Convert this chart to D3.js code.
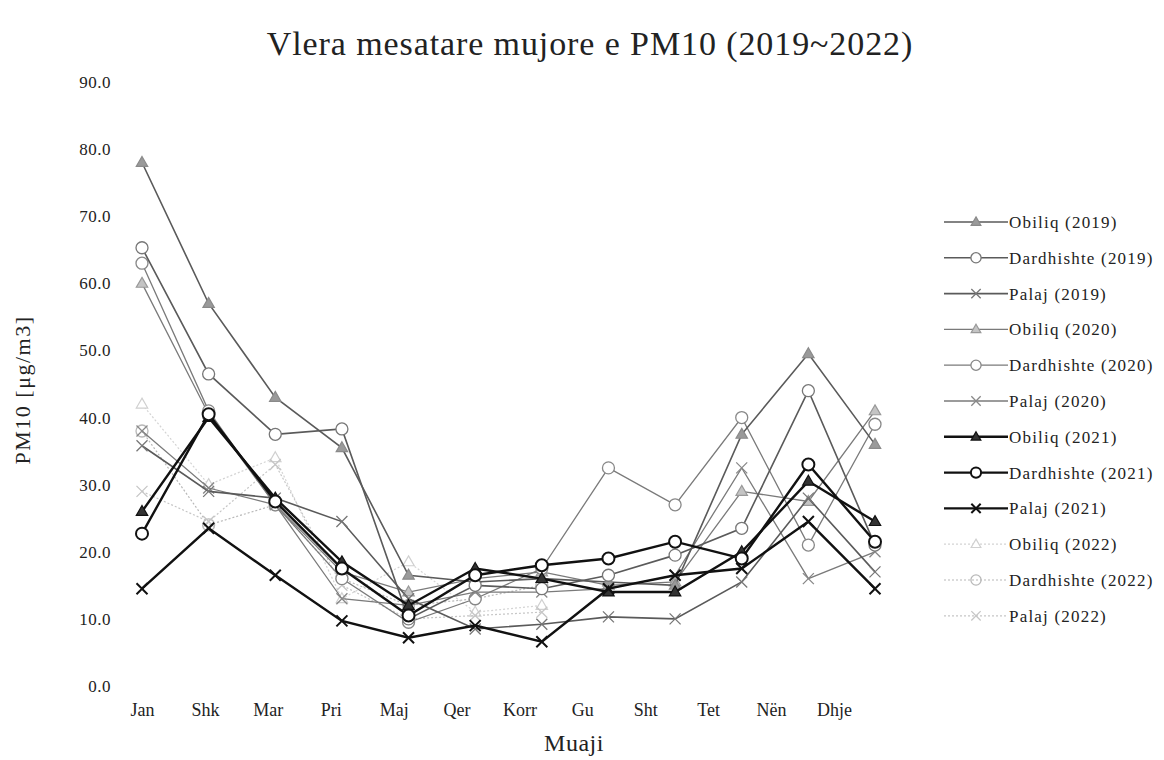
<!DOCTYPE html>
<html>
<head>
<meta charset="utf-8">
<script src="https://cdn.jsdelivr.net/npm/d3@7"></script>
<style>
  body { margin: 0; background: #fff; }
  svg text { font-family: "Liberation Serif", "DejaVu Serif", serif; fill: #222; }
</style>
</head>
<body>
<script>
// Muajt (boshti x)
const months = ["Jan", "Shk", "Mar", "Pri", "Maj", "Qer", "Korr", "Gu", "Sht", "Tet", "Nën", "Dhje"];

// Vlerat mesatare mujore PM10 për çdo stacion / vit
const obiliq2019     = [78, 57, 43, 35.5, 16.5, 15.5, 16, 15.5, 15, 37.5, 49.5, 36];
const dardhishte2019 = [65.3, 46.5, 37.5, 38.3, 10, 15, 14.5, 16.5, 19.5, 23.5, 44, 21];
const palaj2019      = [35.8, 29, 28, 24.5, 13, 8.5, 9.2, 10.3, 10, 15.5, 28, 17];
const obiliq2020     = [60, 40.5, 27, 17, 14, 16, 17, 15, 15.5, 29, 27.5, 41];
const dardhishte2020 = [63, 41, 27, 16, 9.5, 13, 17.5, 32.5, 27, 40, 21, 39];
const palaj2020      = [38, 29.5, 27, 13, 12, 14, 14, 14.5, 16.5, 32.5, 16, 20];
const obiliq2021     = [26, 40, 28, 18.5, 12, 17.5, 16, 14, 14, 20, 30.5, 24.5];
const dardhishte2021 = [22.7, 40.5, 27.5, 17.5, 10.5, 16.5, 18, 19, 21.5, 19, 33, 21.5];
const palaj2021      = [14.5, 23.5, 16.5, 9.7, 7.2, 9, 6.6, 14.5, 16.5, 17.5, 24.5, 14.5];
const obiliq2022     = [42, 30, 34, 13, 18.5, 11, 12];
const dardhishte2022 = [38, 24, 27, 16, 12, 13, 15];
const palaj2022      = [29, 24.5, 33, 15, 10, 10.5, 11];

const yTicks = [0, 10, 20, 30, 40, 50, 60, 70, 80, 90];

// Seritë me stilin e tyre
const series = [
  { name: "Obiliq (2019)",     values: obiliq2019,     shape: "tri",    line: "#5a5a5a", mark: "#8a8a8a", fill: "#9a9a9a", w: 1.6, dash: null },
  { name: "Dardhishte (2019)", values: dardhishte2019, shape: "circle", line: "#5a5a5a", mark: "#777",    fill: "#fff",    w: 1.6, dash: null },
  { name: "Palaj (2019)",      values: palaj2019,      shape: "x",      line: "#5a5a5a", mark: "#777",    fill: "none",    w: 1.6, dash: null },
  { name: "Obiliq (2020)",     values: obiliq2020,     shape: "tri",    line: "#7a7a7a", mark: "#999",    fill: "#c4c4c4", w: 1.3, dash: null },
  { name: "Dardhishte (2020)", values: dardhishte2020, shape: "circle", line: "#7a7a7a", mark: "#888",    fill: "#fff",    w: 1.3, dash: null },
  { name: "Palaj (2020)",      values: palaj2020,      shape: "x",      line: "#7a7a7a", mark: "#888",    fill: "none",    w: 1.3, dash: null },
  { name: "Obiliq (2021)",     values: obiliq2021,     shape: "tri",    line: "#111",    mark: "#111",    fill: "#333",    w: 2.4, dash: null },
  { name: "Dardhishte (2021)", values: dardhishte2021, shape: "circle", line: "#111",    mark: "#111",    fill: "#fff",    w: 2.4, dash: null },
  { name: "Palaj (2021)",      values: palaj2021,      shape: "x",      line: "#111",    mark: "#111",    fill: "none",    w: 2.4, dash: null },
  { name: "Obiliq (2022)",     values: obiliq2022,     shape: "tri",    line: "#d4d4d4", mark: "#d0d0d0", fill: "none",    w: 1.2, dash: "2,2" },
  { name: "Dardhishte (2022)", values: dardhishte2022, shape: "circle", line: "#b8b8b8", mark: "#b8b8b8", fill: "none",    w: 1.2, dash: "2,2" },
  { name: "Palaj (2022)",      values: palaj2022,      shape: "x",      line: "#c6c6c6", mark: "#c6c6c6", fill: "none",    w: 1.2, dash: "2,2" },
];

const W = 1164, H = 760;

const svg = d3.select("body").append("svg")
    .attr("width", W)
    .attr("height", H);

// Shkallët: pikat e të dhënave dhe etiketat e muajve nuk janë të rreshtuara njësoj
const x = d3.scalePoint().domain(months).range([142, 875]);
const xLabel = d3.scalePoint().domain(months).range([142, 834]);
const y = d3.scaleLinear().domain([0, 90]).range([686, 82]);

// Titulli
svg.append("text")
    .attr("x", 590)
    .attr("y", 55)
    .attr("text-anchor", "middle")
    .attr("font-size", "34px")
    .attr("letter-spacing", "0.9px")
    .text("Vlera mesatare mujore e PM10 (2019~2022)");

// Boshti y
const yAxis = svg.append("g")
    .attr("transform", "translate(111,0)")
    .call(d3.axisLeft(y).tickValues(yTicks).tickFormat(d3.format(".1f")).tickSize(0).tickPadding(0));
yAxis.select(".domain").remove();
yAxis.selectAll("text")
    .attr("font-family", "Liberation Serif, serif")
    .attr("font-size", "17px")
    .attr("letter-spacing", "0.5px")
    .attr("fill", "#222");

// Boshti x
const xAxis = svg.append("g")
    .attr("transform", "translate(0,703)")
    .call(d3.axisBottom(xLabel).tickSize(0).tickPadding(0));
xAxis.select(".domain").remove();
xAxis.selectAll("text")
    .attr("font-family", "Liberation Serif, serif")
    .attr("font-size", "18px")
    .attr("fill", "#222");

// Titujt e boshteve
svg.append("text")
    .attr("x", 574)
    .attr("y", 751)
    .attr("text-anchor", "middle")
    .attr("font-size", "24px")
    .attr("letter-spacing", "0.5px")
    .text("Muaji");

svg.append("text")
    .attr("transform", "translate(30,390) rotate(-90)")
    .attr("text-anchor", "middle")
    .attr("font-size", "22px")
    .attr("letter-spacing", "1.5px")
    .text("PM10 [μg/m3]");

// Simbolet
function drawMarker(g, s, cx, cy, scale) {
  const k = scale || 1;
  if (s.shape === "tri") {
    const r = 6 * k;
    g.append("path")
      .attr("d", `M${cx},${cy - r}L${cx + r * 0.95},${cy + r * 0.65}L${cx - r * 0.95},${cy + r * 0.65}Z`)
      .attr("fill", s.fill === "none" ? "#fff" : s.fill)
      .attr("stroke", s.mark)
      .attr("stroke-width", 1.2);
  } else if (s.shape === "circle") {
    g.append("circle")
      .attr("cx", cx).attr("cy", cy).attr("r", 6 * k)
      .attr("fill", s.fill === "none" ? "none" : s.fill)
      .attr("stroke", s.mark)
      .attr("stroke-width", s.w > 2 ? 2 : 1.3);
  } else {
    const r = 5.5 * k;
    g.append("path")
      .attr("d", `M${cx - r},${cy - r}L${cx + r},${cy + r}M${cx - r},${cy + r}L${cx + r},${cy - r}`)
      .attr("stroke", s.mark)
      .attr("stroke-width", s.w > 2 ? 2 : 1.3)
      .attr("fill", "none");
  }
}

const line = d3.line()
    .x((d, i) => x(months[i]))
    .y(d => y(d));

// Linjat (2022 së pari, 2021 në fund që të dalë sipër)
const order = [9, 10, 11, 3, 4, 5, 0, 1, 2, 6, 7, 8];
order.forEach(idx => {
  const s = series[idx];
  const g = svg.append("g").attr("class", "serie");
  g.append("path")
    .datum(s.values)
    .attr("d", line)
    .attr("fill", "none")
    .attr("stroke", s.line)
    .attr("stroke-width", s.w)
    .attr("stroke-dasharray", s.dash);
  s.values.forEach((v, i) => drawMarker(g, s, x(months[i]), y(v), 1));
});

// Legjenda
const legend = svg.append("g").attr("class", "legend");
series.forEach((s, i) => {
  const ly = 222 + i * 35.8;
  const g = legend.append("g");
  g.append("line")
    .attr("x1", 944).attr("x2", 1008)
    .attr("y1", ly).attr("y2", ly)
    .attr("stroke", s.line)
    .attr("stroke-width", s.w)
    .attr("stroke-dasharray", s.dash);
  drawMarker(g, s, 976, ly, 0.85);
  g.append("text")
    .attr("x", 1009)
    .attr("y", ly + 6)
    .attr("font-size", "17px")
    .attr("letter-spacing", "1.2px")
    .text(s.name);
});
</script>
</body>
</html>
